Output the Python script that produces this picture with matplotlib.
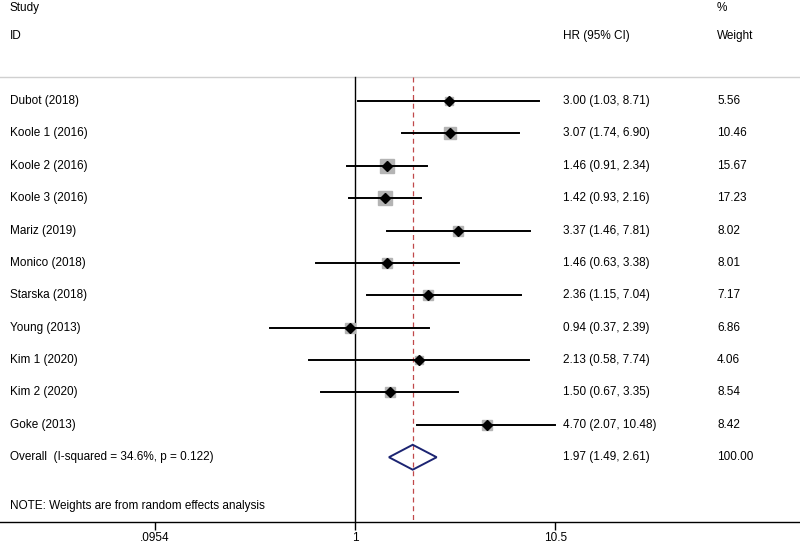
import matplotlib
matplotlib.use("Agg")
import matplotlib.pyplot as plt
import matplotlib.transforms as mtransforms

plt.rcParams['font.family'] = ['Liberation Sans', 'DejaVu Sans']

studies = ['Dubot (2018)', 'Koole 1 (2016)', 'Koole 2 (2016)', 'Koole 3 (2016)',
           'Mariz (2019)', 'Monico (2018)', 'Starska (2018)', 'Young (2013)',
           'Kim 1 (2020)', 'Kim 2 (2020)', 'Goke (2013)']
hr = [3.00, 3.07, 1.46, 1.42, 3.37, 1.46, 2.36, 0.94, 2.13, 1.50, 4.70]
ci_low = [1.03, 1.74, 0.91, 0.93, 1.46, 0.63, 1.15, 0.37, 0.58, 0.67, 2.07]
ci_high = [8.71, 6.90, 2.34, 2.16, 7.81, 3.38, 7.04, 2.39, 7.74, 3.35, 10.48]
weights = [5.56, 10.46, 15.67, 17.23, 8.02, 8.01, 7.17, 6.86, 4.06, 8.54, 8.42]

overall_label = 'Overall  (I-squared = 34.6%, p = 0.122)'
overall_hr, overall_low, overall_high = 1.97, 1.49, 2.61
note = 'NOTE: Weights are from random effects analysis'
xticks = [0.0954, 1, 10.5]
xticklabels = ['.0954', '1', '10.5']

fig = plt.figure(figsize=(8, 5.45), dpi=100)
ax = fig.add_axes([0, 23 / 545, 1, 522 / 545])
ax.set_xscale('log')
ax.set_xlim(10 ** (-355 / 196), 10 ** (445 / 196))
ax.set_ylim(13.0, -3.12)

for s in ['top', 'left', 'right']:
    ax.spines[s].set_visible(False)
ax.spines['bottom'].set_linewidth(1)
ax.set_yticks([])
ax.xaxis.set_minor_locator(matplotlib.ticker.NullLocator())
ax.set_xticks(xticks)
ax.set_xticklabels(xticklabels, fontsize=8.5)
ax.tick_params(axis='x', direction='out', length=6, width=1, pad=1.5)

tr = mtransforms.blended_transform_factory(ax.transAxes, ax.transData)
fs = 8.5

# header
ax.text(10 / 800, -2.88, 'Study', transform=tr, fontsize=fs, va='center')
ax.text(10 / 800, -2, 'ID', transform=tr, fontsize=fs, va='center')
ax.text(563 / 800, -2, 'HR (95% CI)', transform=tr, fontsize=fs, va='center')
ax.text(717 / 800, -2.88, '%', transform=tr, fontsize=fs, va='center')
ax.text(717 / 800, -2, 'Weight', transform=tr, fontsize=fs, va='center')
ax.axhline(-0.74, color='#d0d0d0', lw=1)

# reference lines
ax.plot([1, 1], [-0.74, 13.0], color='black', lw=1)
ax.plot([overall_hr, overall_hr], [-0.74, 13.0], color='#c0484a', lw=0.9,
        ls=(0, (4, 3)))

for i, name in enumerate(studies):
    ax.plot([ci_low[i], ci_high[i]], [i, i], color='black', lw=1.4, zorder=3)
    ax.plot(hr[i], i, marker='s', ms=2.55 * weights[i] ** 0.5, color='#b4b4b4',
            mec='#b4b4b4', zorder=2)
    ax.plot(hr[i], i, marker='D', ms=5.2, color='black', zorder=4)
    ax.text(10 / 800, i, name, transform=tr, fontsize=fs, va='center')
    ax.text(563 / 800, i, f'{hr[i]:.2f} ({ci_low[i]:.2f}, {ci_high[i]:.2f})',
            transform=tr, fontsize=fs, va='center')
    ax.text(717 / 800, i, f'{weights[i]:.2f}', transform=tr, fontsize=fs, va='center')

oy = len(studies)
ax.fill([overall_low, overall_hr, overall_high, overall_hr, overall_low],
        [oy, oy - 0.385, oy, oy + 0.385, oy], facecolor='none',
        edgecolor='#1c2472', lw=1.4, zorder=3)
ax.text(10 / 800, oy, overall_label, transform=tr, fontsize=fs, va='center')
ax.text(563 / 800, oy, f'{overall_hr:.2f} ({overall_low:.2f}, {overall_high:.2f})',
        transform=tr, fontsize=fs, va='center')
ax.text(717 / 800, oy, '100.00', transform=tr, fontsize=fs, va='center')
ax.text(10 / 800, oy + 1.5, note, transform=tr, fontsize=fs, va='center')

fig.savefig('out.png', dpi=100)
